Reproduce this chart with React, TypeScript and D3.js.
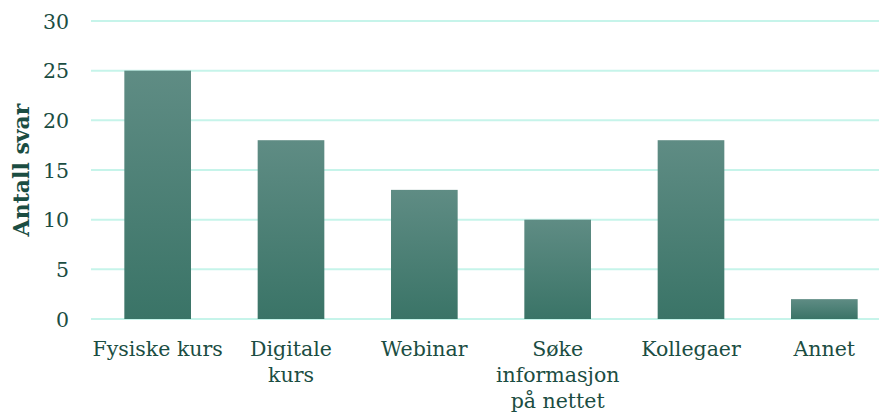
import React, { useRef, useEffect } from 'react';
import * as d3 from 'd3';

const categories = ['Fysiske kurs', 'Digitale kurs', 'Webinar', 'Søke informasjon på nettet', 'Kollegaer', 'Annet'];
// how each category label breaks into lines under the axis
const categoryLines = [
  ['Fysiske kurs'],
  ['Digitale', 'kurs'],
  ['Webinar'],
  ['Søke', 'informasjon', 'på nettet'],
  ['Kollegaer'],
  ['Annet'],
];
const values = [25, 18, 13, 10, 18, 2];
const yTicks = [0, 5, 10, 15, 20, 25, 30];

const FONT = '"DejaVu Serif", Georgia, serif';
const TEXT = '#1b4d42';

export default function App() {
  const ref = useRef<SVGSVGElement>(null);

  useEffect(() => {
    const svg = d3.select(ref.current);
    svg.selectAll('*').remove();

    const width = 879;
    const left = 91, top = 21, bottom = 319;

    const x = d3.scaleBand<string>()
      .domain(categories)
      .range([left, left + 800])
      .paddingInner(0.5)
      .paddingOuter(0.25);

    const y = d3.scaleLinear().domain([0, 30]).range([bottom, top]);

    const defs = svg.append('defs');
    const grad = defs.append('linearGradient')
      .attr('id', 'barGrad')
      .attr('x1', 0).attr('y1', 0).attr('x2', 0).attr('y2', 1);
    grad.append('stop').attr('offset', '0%').attr('stop-color', '#5f8c84');
    grad.append('stop').attr('offset', '100%').attr('stop-color', '#3a7467');

    // gridlines
    svg.append('g')
      .selectAll('line')
      .data(yTicks)
      .enter()
      .append('line')
      .attr('x1', left)
      .attr('x2', width)
      .attr('y1', d => y(d))
      .attr('y2', d => y(d))
      .attr('stroke', '#c6f4ea')
      .attr('stroke-width', 2);

    // y tick labels
    svg.append('g')
      .selectAll('text')
      .data(yTicks)
      .enter()
      .append('text')
      .text(d => d)
      .attr('x', 69)
      .attr('y', d => y(d) + 7.5)
      .attr('text-anchor', 'end')
      .attr('fill', TEXT)
      .style('font-family', FONT)
      .style('font-size', '20.5px');

    svg.append('text')
      .text('Antall svar')
      .attr('transform', `translate(29,${(top + bottom) / 2}) rotate(-90)`)
      .attr('text-anchor', 'middle')
      .attr('fill', TEXT)
      .style('font-family', FONT)
      .style('font-size', '22px')
      .style('font-weight', 'bold');

    svg.append('g')
      .selectAll('rect')
      .data(values)
      .enter()
      .append('rect')
      .attr('x', (d, i) => x(categories[i])!)
      .attr('y', d => y(d))
      .attr('width', x.bandwidth())
      .attr('height', d => y(0) - y(d))
      .attr('fill', 'url(#barGrad)');

    const labels = svg.append('g')
      .selectAll('text')
      .data(categories)
      .enter()
      .append('text')
      .attr('x', d => x(d)! + x.bandwidth() / 2)
      .attr('y', 356)
      .attr('text-anchor', 'middle')
      .attr('fill', TEXT)
      .style('font-family', FONT)
      .style('font-size', '20.5px');

    labels.each(function (d, i) {
      const t = d3.select(this);
      categoryLines[i].forEach((line, j) => {
        t.append('tspan')
          .attr('x', x(d)! + x.bandwidth() / 2)
          .attr('dy', j === 0 ? 0 : 26)
          .text(line);
      });
    });
  }, []);

  return (
    <svg
      ref={ref}
      width={879}
      height={415}
      style={{ position: 'absolute', left: 0, top: 0, display: 'block' }}
    />
  );
}
